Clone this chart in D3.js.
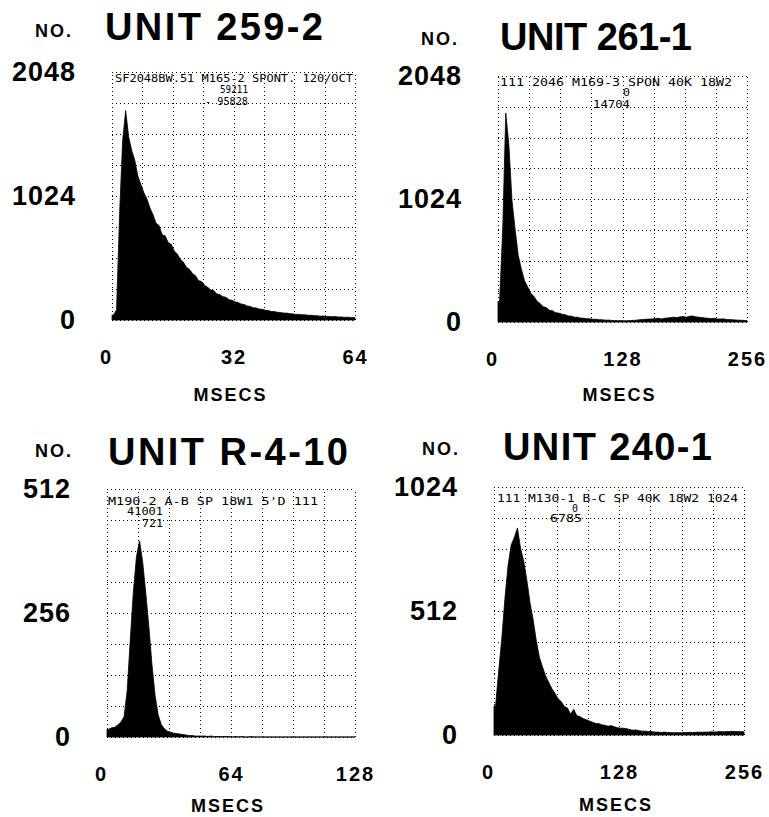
<!DOCTYPE html>
<html>
<head>
<meta charset="utf-8">
<script src="https://cdn.jsdelivr.net/npm/d3@7/dist/d3.min.js"></script>
<style>
  body { margin: 0; background: #fff; }
</style>
</head>
<body>
<script>
// data
var units = ['UNIT 259-2', 'UNIT 261-1', 'UNIT R-4-10', 'UNIT 240-1'];
var xMaxes = [64, 256, 128, 256];
var yMaxes = [2048, 2048, 512, 1024];
var xTickVals = [[0, 32, 64], [0, 128, 256], [0, 64, 128], [0, 128, 256]];
var yTickVals = [[0, 1024, 2048], [0, 1024, 2048], [0, 256, 512], [0, 512, 1024]];

var counts259 = [40, 85, 880, 1480, 1730, 1510, 1400, 1320, 1190, 1120, 1050, 1000, 925, 870, 800, 780,
  705, 695, 640, 625, 570, 545, 500, 478, 435, 418, 385, 365, 325, 318, 285, 270, 248, 244, 215, 210,
  192, 188, 168, 163, 150, 144, 132, 128, 116, 112, 102, 99, 90, 88, 80, 78, 70, 70, 63, 62, 57, 57,
  51, 51, 46, 47, 43, 43, 39, 39, 36, 36, 32, 33, 29, 29, 27, 28, 25, 25, 22, 23, 21, 20];
var counts261 = [170, 760, 1740, 1470, 1010, 770, 555, 440, 345, 295, 240, 215, 175, 155, 128, 120,
  98, 94, 78, 74, 64, 62, 50, 50, 40, 40, 33, 31, 27, 27, 22, 23, 19, 19, 15, 16, 13, 13, 11, 12,
  10, 11, 12, 14, 15, 19, 20, 23, 24, 26, 28, 31, 26, 31, 33, 37, 40, 37, 43, 45, 40, 47, 50, 43,
  40, 37, 33, 31, 28, 31, 25, 25, 26, 21, 20, 18, 16, 15, 14, 12];
var countsR410 = [16, 19, 20, 25, 31, 42, 95, 200, 300, 372, 405, 362, 298, 228, 150, 86, 46, 26, 17, 12,
  10, 8, 7, 6, 5, 4, 3, 3, 2, 2, 2, 2, 1, 2, 1, 1, 1, 1, 1, 1, 0, 1, 0, 1, 0, 0, 1, 0, 0, 0,
  0, 0, 0, 0, 0, 0, 0, 0, 0, 0, 0, 0, 0, 0, 0, 0, 0, 0, 0, 0, 0, 0, 0, 0, 0, 0, 0, 0, 0, 0];
var counts240 = [120, 265, 400, 565, 700, 785, 815, 855, 770, 718, 640, 548, 478, 392, 322, 282,
  244, 218, 192, 172, 150, 138, 118, 112, 86, 106, 80, 76, 68, 63, 58, 53, 48, 47, 42, 40, 36, 39,
  34, 30, 28, 28, 26, 22, 20, 21, 18, 16, 16, 14, 14, 12, 12, 10, 12, 10, 10, 9, 10, 9, 10, 10,
  11, 10, 11, 12, 11, 12, 12, 13, 12, 13, 14, 13, 14, 14, 15, 14, 14, 13];

var notes259 = ['SF2048BW.51  M165-2  SPONT. 120/OCT', '59211', '-  95828'];
var notes261 = ['111 2046 M169-3 SPON 40K 18W2', '0', '14704'];
var notesR410 = ["M190-2 A-B SP 18W1 5'D 111", '41001', '721'];
var notes240 = ['111 M130-1 B-C SP 40K 18W2 1024', '0', '6785'];

// 版面
var boldFont = '"Liberation Sans", Arial, sans-serif';
var panels = [
  { counts: counts259, notes: notes259, left: 112, top: 72, w: 243, h: 248,
    noX: 35, noY: 37, titleX: 105, titleY: 40, titleW: 218, msecsY: 81,
    notePos: [[3, 10, 238], [108, 21, 28], [93, 33, 43]] },
  { counts: counts261, notes: notes261, left: 498, top: 76, w: 249, h: 246,
    noX: 421, noY: 45, titleX: 500, titleY: 50, titleW: 192, msecsY: 79,
    notePos: [[2, 10, 232], [125, 20, 7], [95, 32, 37]] },
  { counts: countsR410, notes: notesR410, left: 107, top: 489, w: 248, h: 248,
    noX: 35, noY: 457, titleX: 108, titleY: 465, titleW: 240, msecsY: 75,
    notePos: [[1, 16, 210], [20, 26, 36], [35, 38, 21]] },
  { counts: counts240, notes: notes240, left: 494, top: 487, w: 250, h: 248,
    noX: 422, noY: 455, titleX: 503, titleY: 460, titleW: 209, msecsY: 76,
    notePos: [[3, 15, 241], [78, 25, 6], [56, 35, 32]] }
];

var svg = d3.select('body').append('svg')
  .attr('width', 769)
  .attr('height', 817)
  .style('background', '#fff');

panels.forEach(function (p, k) {
  var xMax = xMaxes[k], yMax = yMaxes[k];
  var x = d3.scaleLinear().domain([0, xMax]).range([0, p.w]);
  var y = d3.scaleLinear().domain([0, yMax]).range([p.h, 0]);
  var binW = xMax / p.counts.length;

  // titles
  svg.append('text')
    .attr('x', p.noX).attr('y', p.noY)
    .attr('font-family', boldFont).attr('font-weight', 'bold')
    .attr('font-size', 18).attr('letter-spacing', 2)
    .text('NO.');
  svg.append('text')
    .attr('x', p.titleX).attr('y', p.titleY)
    .attr('font-family', boldFont).attr('font-weight', 'bold')
    .attr('font-size', 38)
    .attr('textLength', p.titleW).attr('lengthAdjust', 'spacing')
    .text(units[k]);

  var g = svg.append('g').attr('transform', 'translate(' + p.left + ',' + p.top + ')');

  // dotted 8x8 grid, frame included
  var grid = d3.range(9).map(function (i) { return i / 8; });
  var gx = g.append('g')
    .attr('transform', 'translate(0,' + p.h + ')')
    .call(d3.axisBottom(x).tickValues(grid.map(function (f) { return f * xMax; }))
      .tickSize(-p.h).tickFormat(''));
  var gy = g.append('g')
    .call(d3.axisLeft(y).tickValues(grid.map(function (f) { return f * yMax; }))
      .tickSize(-p.w).tickFormat(''));
  [gx, gy].forEach(function (a) {
    a.select('.domain').remove();
    a.selectAll('line')
      .attr('stroke', '#000')
      .attr('stroke-width', 1)
      .attr('stroke-dasharray', '1,3')
      .attr('shape-rendering', 'crispEdges');
  });

  // histogram traced through the bin centres
  var pts = [[0, p.counts[0]]];
  p.counts.forEach(function (c, i) { pts.push([(i + 0.5) * binW, c]); });
  pts.push([xMax, p.counts[p.counts.length - 1]]);
  var area = d3.area()
    .x(function (d) { return x(d[0]); })
    .y0(y(0))
    .y1(function (d) { return y(d[1]); });
  g.append('path')
    .datum(pts)
    .attr('fill', '#000')
    .attr('stroke', '#000')
    .attr('stroke-width', 0.8)
    .attr('d', area);

  // plotter notes
  p.notes.forEach(function (s, i) {
    var np = p.notePos[i];
    g.append('text')
      .attr('x', np[0]).attr('y', np[1])
      .attr('font-family', '"DejaVu Sans Mono", monospace')
      .attr('font-size', 10)
      .attr('textLength', np[2]).attr('lengthAdjust', 'spacingAndGlyphs')
      .text(s);
  });

  // y tick labels
  var ay = g.append('g')
    .call(d3.axisLeft(y).tickValues(yTickVals[k]).tickSize(0).tickPadding(36)
      .tickFormat(d3.format('d')));
  ay.select('.domain').remove();
  ay.attr('font-family', boldFont).attr('font-size', 27).attr('font-weight', 'bold');
  ay.selectAll('text').attr('letter-spacing', 1);

  // x tick labels
  var ax = g.append('g')
    .attr('transform', 'translate(0,' + p.h + ')')
    .call(d3.axisBottom(x).tickValues(xTickVals[k]).tickSize(0).tickPadding(30)
      .tickFormat(d3.format('d')));
  ax.select('.domain').remove();
  ax.attr('font-family', boldFont).attr('font-size', 20).attr('font-weight', 'bold');
  ax.selectAll('text').attr('letter-spacing', 2)
    .attr('dx', function (d) { return d === 0 ? -6 : 0; });

  g.append('text')
    .attr('x', p.w / 2 - 3)
    .attr('y', p.h + p.msecsY)
    .attr('text-anchor', 'middle')
    .attr('font-family', boldFont).attr('font-weight', 'bold')
    .attr('font-size', 18).attr('letter-spacing', 2)
    .text('MSECS');
});
</script>
</body>
</html>
